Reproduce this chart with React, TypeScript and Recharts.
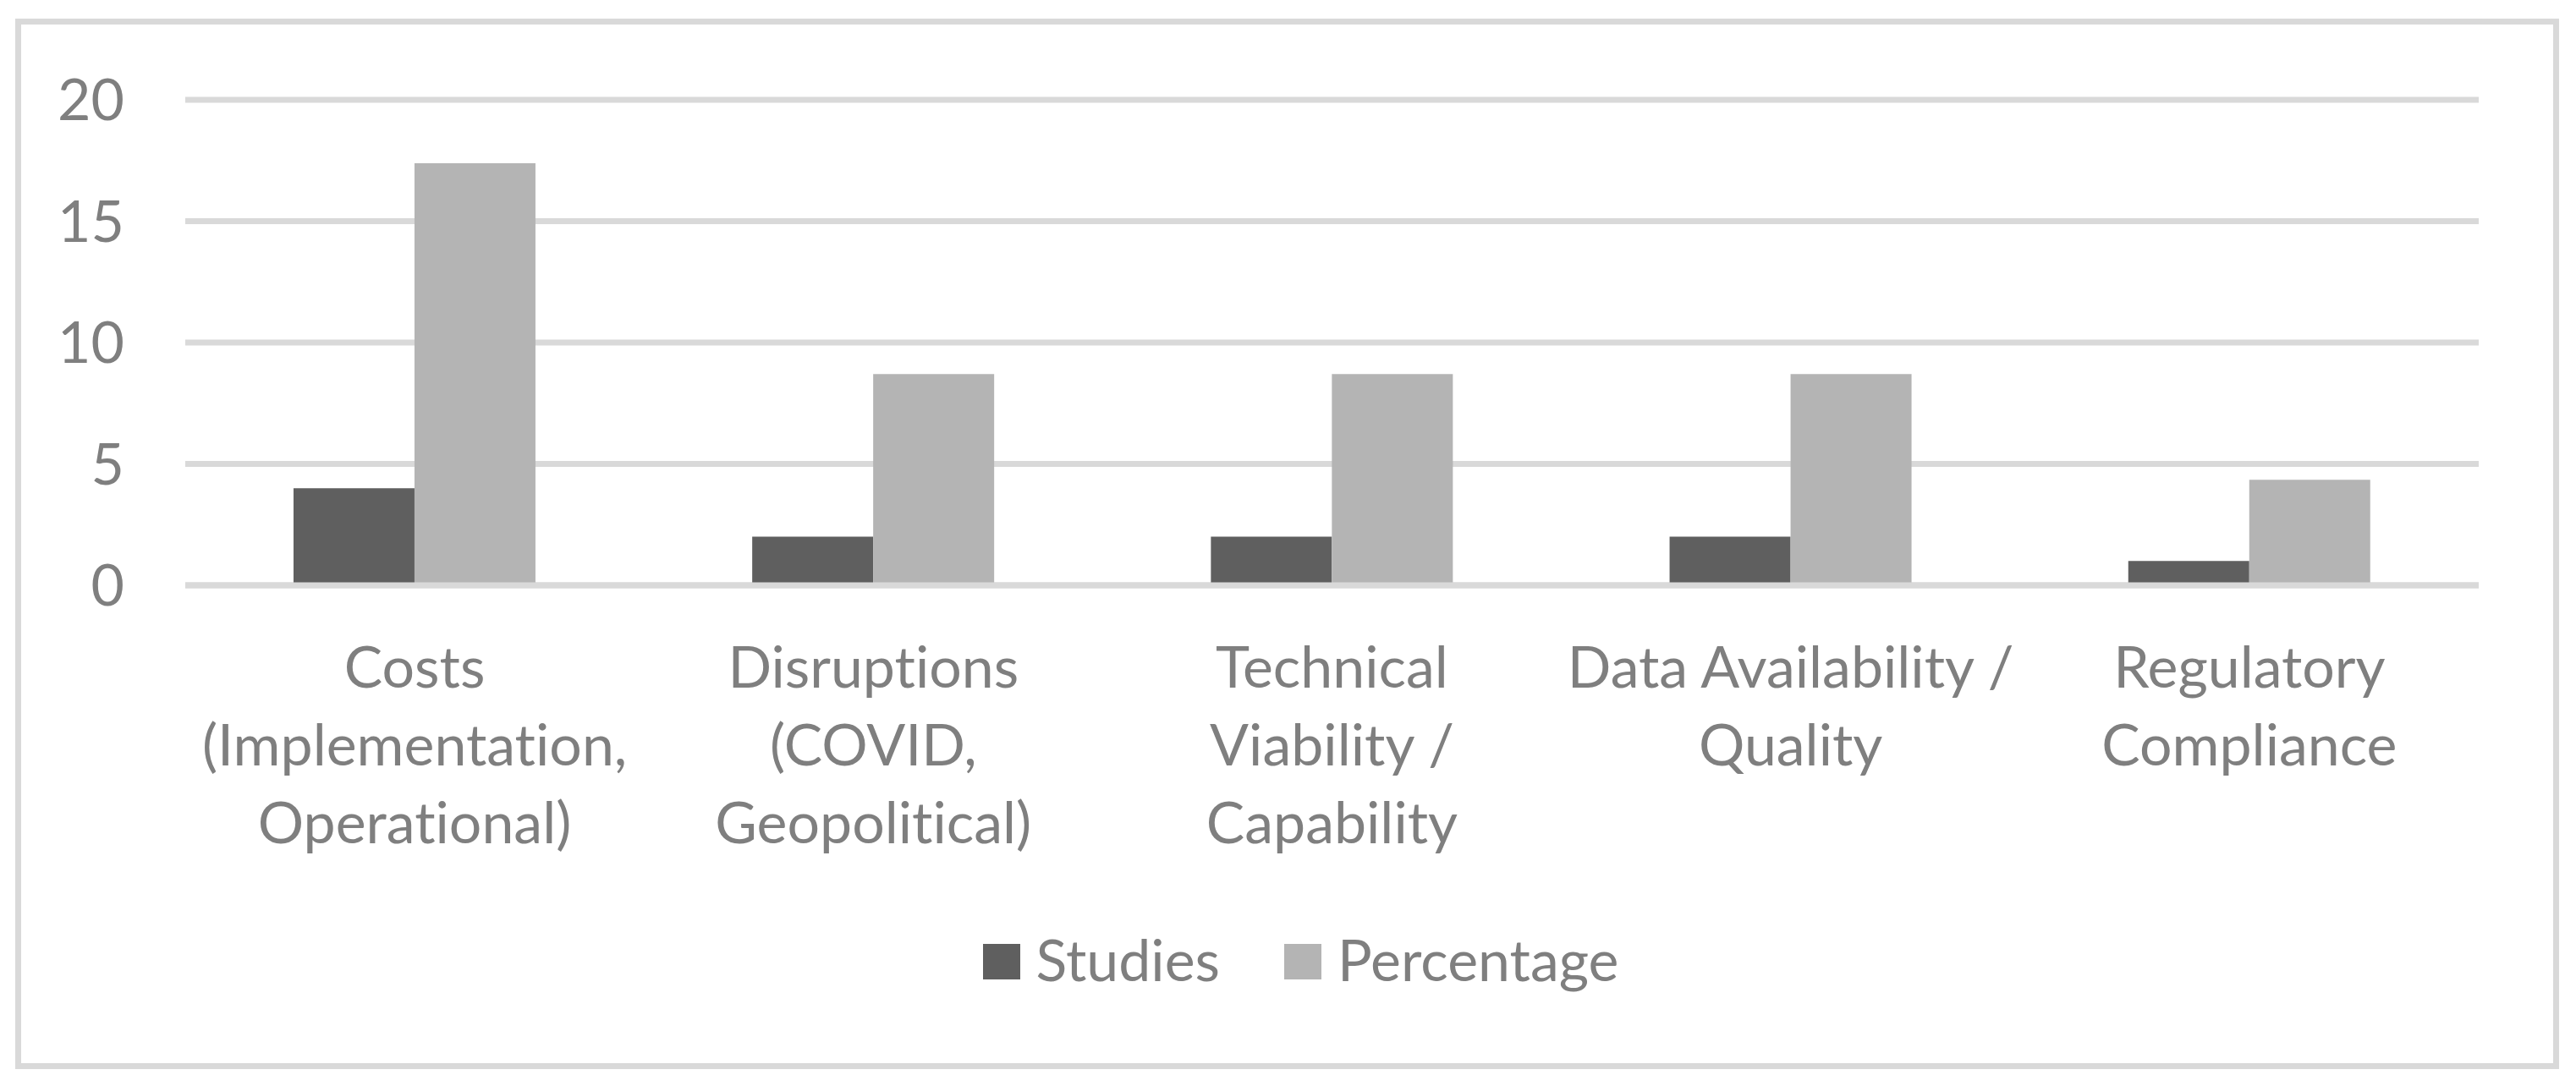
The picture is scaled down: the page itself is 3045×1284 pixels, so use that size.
import React from 'react';
import { BarChart, Bar, XAxis, YAxis, CartesianGrid, Legend } from 'recharts';

const categories = [
  'Costs (Implementation, Operational)',
  'Disruptions (COVID, Geopolitical)',
  'Technical Viability / Capability',
  'Data Availability / Quality',
  'Regulatory Compliance',
];

// how each category label wraps under the axis
const categoryLines = [
  ['Costs', '(Implementation,', 'Operational)'],
  ['Disruptions', '(COVID,', 'Geopolitical)'],
  ['Technical', 'Viability /', 'Capability'],
  ['Data Availability /', 'Quality'],
  ['Regulatory', 'Compliance'],
];

const studies = [4, 2, 2, 2, 1];
const percentage = [17.39, 8.7, 8.7, 8.7, 4.35];
const yTicks = [0, 5, 10, 15, 20];

const data = categories.map((name, i) => ({
  name,
  Studies: studies[i],
  Percentage: percentage[i],
}));

const FONT = 'Lato, "Open Sans", sans-serif';
const TEXT = '#7f7f7f';
const GRID = '#d9d9d9';
const DARK = '#5f5f5f';
const LIGHT = '#b4b4b4';

function CategoryTick(props: any) {
  const { x, y, payload } = props;
  const lines = categoryLines[categories.indexOf(payload.value)] || [payload.value];
  return (
    <text
      x={x}
      y={y}
      textAnchor="middle"
      fill={TEXT}
      fontSize={68}
      fontFamily={FONT}
      style={{ fontVariantLigatures: 'none' }}
    >
      {lines.map((line, i) => (
        <tspan key={i} x={x} dy={i === 0 ? 119 : 92}>
          {line}
        </tspan>
      ))}
    </text>
  );
}

function renderLegend() {
  const items = [
    { label: 'Studies', color: DARK },
    { label: 'Percentage', color: LIGHT },
  ];
  return (
    <div
      style={{
        display: 'flex',
        justifyContent: 'center',
        alignItems: 'center',
        height: 60,
        paddingLeft: 30,
        fontFamily: FONT,
        fontSize: 68,
        color: TEXT,
        fontVariantLigatures: 'none',
      }}
    >
      {items.map((it, i) => (
        <div key={it.label} style={{ display: 'flex', alignItems: 'center', marginLeft: i ? 76 : 0 }}>
          <div style={{ width: 44, height: 42, background: it.color, marginRight: 19, marginTop: 6 }} />
          <span style={{ lineHeight: '60px' }}>{it.label}</span>
        </div>
      ))}
    </div>
  );
}

export default function App() {
  return (
    <div style={{ position: 'absolute', left: 0, top: 0, width: 3045, height: 1284, background: '#fff' }}>
      <div
        style={{
          position: 'absolute',
          left: 18,
          top: 22,
          width: 3007,
          height: 1242,
          border: `7px solid ${GRID}`,
          boxSizing: 'border-box',
        }}
      />
      <BarChart
        width={3045}
        height={1284}
        data={data}
        margin={{ top: 118, right: 115, left: 0, bottom: 120 }}
        barCategoryGap="23.6%"
        barGap={0}
      >
        <CartesianGrid vertical={false} stroke={GRID} strokeWidth={7} />
        <YAxis
          width={219}
          domain={[0, 20]}
          ticks={yTicks}
          interval={0}
          axisLine={false}
          tickLine={false}
          tickSize={0}
          tickMargin={72}
          tick={{ fill: TEXT, fontSize: 68, fontFamily: FONT }}
        />
        <Bar dataKey="Studies" fill={DARK} isAnimationActive={false} />
        <Bar dataKey="Percentage" fill={LIGHT} isAnimationActive={false} />
        <XAxis
          dataKey="name"
          height={412}
          interval={0}
          tickLine={false}
          tickSize={0}
          axisLine={{ stroke: GRID, strokeWidth: 7 }}
          tick={<CategoryTick />}
        />
        <Legend
          verticalAlign="bottom"
          content={renderLegend}
          wrapperStyle={{ left: 0, width: 3045, height: 60 }}
        />
      </BarChart>
    </div>
  );
}
